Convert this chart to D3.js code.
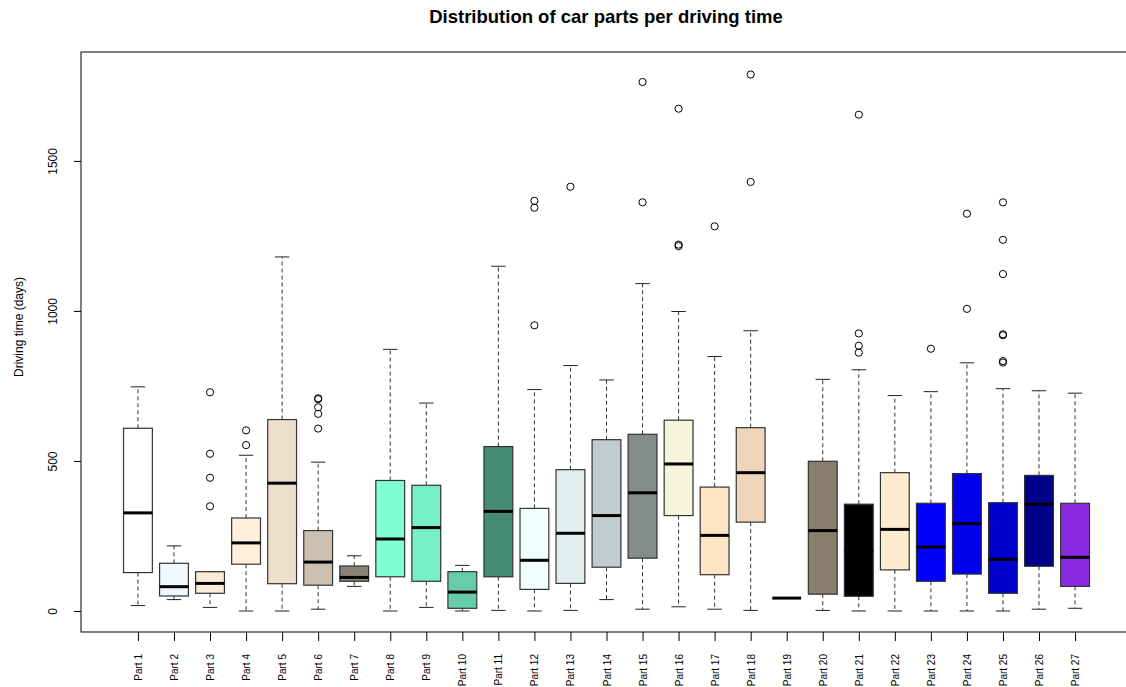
<!DOCTYPE html>
<html>
<head>
<meta charset="utf-8">
<script src="https://cdnjs.cloudflare.com/ajax/libs/d3/7.8.5/d3.min.js"></script>
<style>
  body { margin: 0; background: #fff; }
  svg { display: block; }
  text { font-family: "Liberation Sans", Arial, sans-serif; fill: #000; }
</style>
</head>
<body>
<div id="chart"></div>
<script>
// values (days)
var parts = d3.range(1, 28).map(function (i) { return "Part " + i; });

var boxColors = ["#FFFFFF", "#F0F8FF", "#FAEBD7", "#FFEFDB", "#EEDFCC", "#CDC0B0", "#8B8378",
  "#7FFFD4", "#76EEC6", "#66CDAA", "#458B74", "#F0FFFF", "#E0EEEE", "#C1CDCD", "#838B8B",
  "#F5F5DC", "#FFE4C4", "#EED5B7", "#CDB79E", "#8B7D6B", "#000000", "#FFEBCD", "#0000FF",
  "#0000EE", "#0000CD", "#00008B", "#8A2BE2"];

var whiskerLow = [18, 38, 12, 0, 0, 6, 82, 0, 12, 0, 2, 0, 2, 38, 6, 14, 6, 2, 43, 2, 0, 0, 0, 0, 0, 6, 9];
var q1 = [128, 50, 59, 156, 91, 86, 99, 114, 99, 9, 114, 72, 92, 146, 176, 318, 121, 296, 43, 56, 49, 137, 99, 123, 59, 149, 82];
var median = [327, 81, 92, 227, 426, 163, 112, 240, 278, 63, 332, 169, 259, 318, 394, 490, 252, 461, 43, 268, 200, 272, 213, 291, 172, 356, 179];
var q3 = [609, 159, 131, 310, 638, 268, 150, 435, 419, 131, 548, 342, 471, 571, 589, 636, 413, 611, 43, 499, 356, 461, 359, 458, 361, 452, 359];
var whiskerHigh = [747, 217, 131, 519, 1180, 496, 184, 872, 693, 152, 1149, 738, 818, 770, 1091, 998, 848, 934, 43, 772, 804, 718, 731, 827, 741, 734, 726];
var outliers = [
  [], [], [729, 524, 444, 349], [602, 553], [], [709, 706, 679, 657, 608], [], [], [], [],
  [], [1367, 1344, 952], [1414], [], [1763, 1362], [1674, 1221, 1216], [1282], [1788, 1430], [],
  [], [1654, 925, 884, 861], [], [874], [1324, 1007], [1362, 1237, 1123, 922, 919, 833, 828], [], []
];

var titleText = "Distribution of car parts per driving time";
var yLabel = "Driving time (days)";
var yTicks = [0, 500, 1000, 1500];

var svgWidth = 1126, svgHeight = 687;
var plot = { left: 81, right: 1132, top: 52, bottom: 632 };

var svg = d3.select("#chart")
  .append("svg")
  .attr("width", svgWidth)
  .attr("height", svgHeight);

var x = d3.scaleLinear()
  .domain([-0.58, 28.58])
  .range([plot.left, plot.right]);

var y = d3.scaleLinear()
  .domain([-70, 1863])
  .range([plot.bottom, plot.top]);

var boxW = x(0.8) - x(0);
var capW = x(0.4) - x(0);

var data = parts.map(function (p, i) {
  return {
    name: p, pos: i + 1, col: boxColors[i],
    lo: whiskerLow[i], q1: q1[i], med: median[i], q3: q3[i], hi: whiskerHigh[i],
    out: outliers[i]
  };
});

var g = svg.append("g");

var box = g.selectAll(".box")
  .data(data)
  .enter()
  .append("g")
  .attr("class", "box");

// whiskers
box.append("line")
  .attr("x1", d => x(d.pos)).attr("x2", d => x(d.pos))
  .attr("y1", d => y(d.q3)).attr("y2", d => y(d.hi))
  .attr("stroke", "#333").attr("stroke-dasharray", "4,3");
box.append("line")
  .attr("x1", d => x(d.pos)).attr("x2", d => x(d.pos))
  .attr("y1", d => y(d.q1)).attr("y2", d => y(d.lo))
  .attr("stroke", "#333").attr("stroke-dasharray", "4,3");

// caps
box.append("line")
  .attr("x1", d => x(d.pos) - capW / 2).attr("x2", d => x(d.pos) + capW / 2)
  .attr("y1", d => y(d.hi)).attr("y2", d => y(d.hi))
  .attr("stroke", "#222");
box.append("line")
  .attr("x1", d => x(d.pos) - capW / 2).attr("x2", d => x(d.pos) + capW / 2)
  .attr("y1", d => y(d.lo)).attr("y2", d => y(d.lo))
  .attr("stroke", "#222");

// boxes
box.append("rect")
  .attr("x", d => x(d.pos) - boxW / 2)
  .attr("width", boxW)
  .attr("y", d => y(d.q3))
  .attr("height", d => y(d.q1) - y(d.q3))
  .attr("fill", d => d.col)
  .attr("stroke", "#333")
  .attr("stroke-width", 1.2);

// medians
box.append("line")
  .attr("x1", d => x(d.pos) - boxW / 2).attr("x2", d => x(d.pos) + boxW / 2)
  .attr("y1", d => y(d.med)).attr("y2", d => y(d.med))
  .attr("stroke", "#000").attr("stroke-width", 3);

// outliers
box.selectAll("circle")
  .data(d => d.out.map(v => ({ pos: d.pos, v: v })))
  .enter()
  .append("circle")
  .attr("cx", d => x(d.pos))
  .attr("cy", d => y(d.v))
  .attr("r", 3.6)
  .attr("fill", "none")
  .attr("stroke", "#000")
  .attr("stroke-width", 1);

// frame
svg.append("rect")
  .attr("x", plot.left).attr("y", plot.top)
  .attr("width", plot.right - plot.left)
  .attr("height", plot.bottom - plot.top)
  .attr("fill", "none")
  .attr("stroke", "#000");

// y axis
var yAxis = svg.append("g")
  .attr("transform", "translate(" + plot.left + ",0)")
  .call(d3.axisLeft(y).tickValues(yTicks).tickSize(7).tickFormat(d3.format("d")));
yAxis.select(".domain").remove();
yAxis.selectAll("line").attr("stroke", "#000");
yAxis.selectAll("text")
  .attr("x", 0)
  .attr("y", 0)
  .attr("transform", "translate(-28,0) rotate(-90)")
  .attr("dy", "0.35em")
  .attr("text-anchor", "middle")
  .style("font-family", "'Liberation Sans', Arial, sans-serif")
  .style("font-size", "12px")
  .attr("fill", "#000");

// x axis
var xAxis = svg.append("g")
  .attr("transform", "translate(0," + plot.bottom + ")")
  .call(d3.axisBottom(x).tickValues(d3.range(1, 28)).tickSize(9).tickFormat(d => parts[d - 1]));
xAxis.select(".domain").remove();
xAxis.selectAll("line").attr("stroke", "#000");
xAxis.selectAll("text")
  .attr("transform", "rotate(-90)")
  .attr("x", -22)
  .attr("y", 0)
  .attr("dy", "0.35em")
  .attr("text-anchor", "end")
  .style("font-family", "'Liberation Sans', Arial, sans-serif")
  .style("font-size", "10px")
  .attr("fill", "#000");

// title and y label
svg.append("text")
  .attr("x", 606)
  .attr("y", 23)
  .attr("text-anchor", "middle")
  .style("font-size", "18.5px")
  .style("font-weight", "bold")
  .text(titleText);

svg.append("text")
  .attr("transform", "translate(23,327) rotate(-90)")
  .attr("text-anchor", "middle")
  .style("font-size", "12px")
  .text(yLabel);
</script>
</body>
</html>
